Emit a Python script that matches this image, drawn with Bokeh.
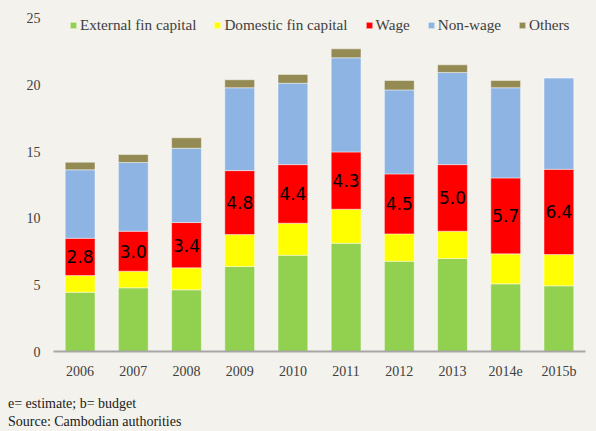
from bokeh.plotting import figure
from bokeh.models import ColumnDataSource, FactorRange, Legend, FixedTicker, Div
from bokeh.layouts import column
from bokeh.core.properties import value
from bokeh.embed import file_html
from bokeh.resources import INLINE

years = ["2006", "2007", "2008", "2009", "2010", "2011", "2012", "2013", "2014e", "2015b"]
external = [4.45, 4.78, 4.63, 6.38, 7.23, 8.13, 6.78, 6.98, 5.08, 4.93]
domestic = [1.25, 1.25, 1.65, 2.40, 2.40, 2.55, 2.05, 2.05, 2.25, 2.35]
wage = [2.8, 3.0, 3.4, 4.8, 4.4, 4.3, 4.5, 5.0, 5.7, 6.4]
nonwage = [5.14, 5.16, 5.58, 6.22, 6.11, 7.07, 6.31, 6.92, 6.77, 6.87]
others = [0.57, 0.60, 0.78, 0.60, 0.66, 0.67, 0.71, 0.57, 0.55, 0.0]
series_names = ["External fin capital", "Domestic fin capital", "Wage", "Non-wage", "Others"]
y_ticks = [0, 5, 10, 15, 20, 25]
footnotes = ["e= estimate; b= budget", "Source: Cambodian authorities"]

BG = "#F3F2EC"
colors = ["#92D050", "#FFFF00", "#FF0000", "#8DB4E2", "#948A54"]
keys = ["external", "domestic", "wage", "nonwage", "others"]

wage_mid = [e + d + w / 2 for e, d, w in zip(external, domestic, wage)]
wage_txt = [f"{w:.1f}" for w in wage]

source = ColumnDataSource(dict(year=years, external=external, domestic=domestic,
                               wage=wage, nonwage=nonwage, others=others,
                               wage_mid=wage_mid, wage_txt=wage_txt))

p = figure(x_range=FactorRange(factors=years, range_padding=0), y_range=(0, 26.05),
           width=596, height=388, output_backend="svg", toolbar_location=None,
           min_border_left=53, min_border_right=11, min_border_top=4, min_border_bottom=37)
p.background_fill_color = BG
p.border_fill_color = BG
p.outline_line_color = None
p.xgrid.grid_line_color = None
p.ygrid.grid_line_color = None

renderers = p.vbar_stack(keys, x="year", width=0.56, color=colors, source=source,
                         line_color="white", line_alpha=0.45, line_width=1)

p.text(x="year", y="wage_mid", text="wage_txt", source=source,
       text_align="center", text_baseline="middle",
       text_font=value("DejaVu Sans"), text_font_size="17px", text_color="black")

legend = Legend(items=[(n, [r]) for n, r in zip(series_names, renderers)],
                orientation="horizontal", location=(16, 316),
                glyph_width=8, glyph_height=8, label_height=20,
                label_standoff=3, spacing=17, padding=0, margin=0,
                label_text_font="Liberation Serif", label_text_font_size="15.2px",
                label_text_color="#404040",
                background_fill_alpha=0, border_line_color=None)
p.add_layout(legend, "center")

yax = p.yaxis[0]
yax.ticker = FixedTicker(ticks=y_ticks)
yax.axis_line_color = None
yax.major_tick_line_color = None
yax.minor_tick_line_color = None
yax.major_tick_out = 0
yax.major_label_standoff = 13
yax.major_label_text_font = "Liberation Serif"
yax.major_label_text_font_size = "14px"
yax.major_label_text_color = "#404040"

xax = p.xaxis[0]
xax.axis_line_color = "#A6A6A6"
xax.axis_line_width = 2
xax.major_tick_line_color = None
xax.minor_tick_line_color = None
xax.major_tick_out = 0
xax.major_label_standoff = 12
xax.major_label_text_font = "Liberation Serif"
xax.major_label_text_font_size = "14px"
xax.major_label_text_color = "#404040"

note = Div(text="<br>".join(footnotes), width=596, height=43,
           styles={"font-family": "'Liberation Serif'", "font-size": "14px",
                   "line-height": "18px", "color": "#202020",
                   "padding": "7px 0 0 8px", "background-color": BG,
                   "margin": "0", "box-sizing": "border-box"})

layout = column(p, note, spacing=0)

html = file_html(layout, INLINE)
html = html.replace("</head>", "<style>body{background:#F3F2EC;}</style></head>", 1)
open("out.html", "w").write(html)
